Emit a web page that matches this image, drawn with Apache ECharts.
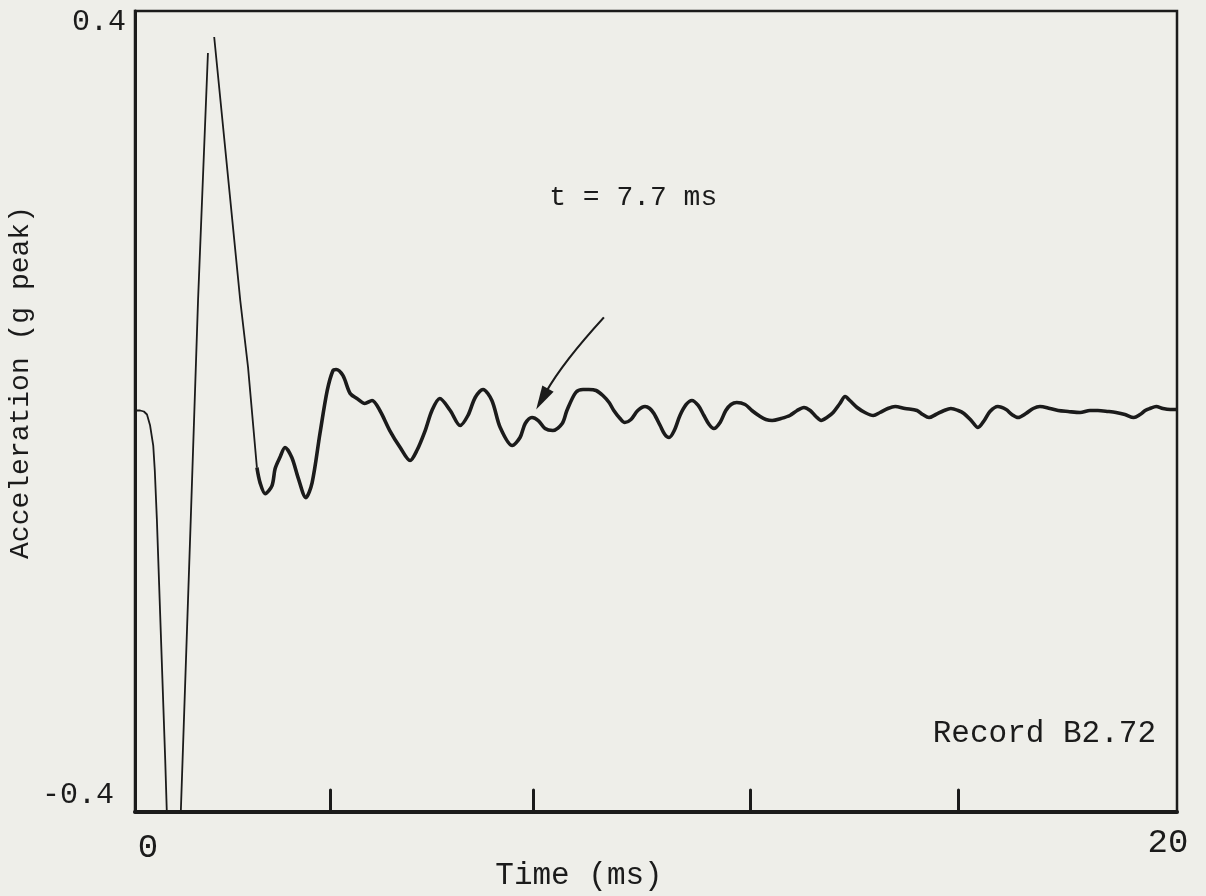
<!DOCTYPE html>
<html>
<head>
<meta charset="utf-8">
<title>Acceleration record B2.72</title>
<script src="https://cdn.jsdelivr.net/npm/echarts@6.0.0/dist/echarts.min.js"></script>
<style>
  html, body { margin: 0; padding: 0; background: #eeeee9; }
  #chart { width: 1206px; height: 896px; }
</style>
</head>
<body>
<div id="chart"></div>
<script>
// Sampled trace: time (ms) and acceleration (g peak). The null is the pen lift at the first peak.
const timeMs = [
  0, 0.10, 0.17, 0.23, 0.29, 0.35, 0.38, 0.42, 0.58, 0.61,
  0.75, 0.88, 1.07, 1.21, 1.40, 1.46, 1.52, 2.02, 2.17, 2.34,
  2.40, 2.50, 2.63, 2.69, 2.78, 2.88, 3.01, 3.13, 3.28, 3.40,
  3.55, 3.69, 3.80, 3.86, 3.99, 4.13, 4.26, 4.41, 4.55, 4.70,
  4.89, 5.09, 5.28, 5.41, 5.57, 5.70, 5.85, 6.05, 6.24, 6.39,
  6.53, 6.68, 6.85, 7.01, 7.24, 7.39, 7.49, 7.62, 7.74, 7.87,
  8.02, 8.20, 8.29, 8.46, 8.60, 8.71, 8.85, 8.98, 9.10, 9.19,
  9.31, 9.40, 9.52, 9.65, 9.79, 9.88, 9.96, 10.08, 10.17, 10.25,
  10.35, 10.46, 10.58, 10.69, 10.81, 10.92, 11.02, 11.11, 11.23, 11.34,
  11.44, 11.55, 11.71, 11.84, 12.00, 12.11, 12.23, 12.40, 12.57, 12.71,
  12.84, 12.96, 13.07, 13.17, 13.28, 13.40, 13.53, 13.63, 13.72, 13.86,
  14.01, 14.17, 14.30, 14.45, 14.59, 14.78, 15.01, 15.12, 15.24, 15.37,
  15.53, 15.66, 15.80, 15.91, 16.05, 16.18, 16.30, 16.41, 16.56, 16.72,
  16.83, 16.95, 17.10, 17.24, 17.37, 17.56, 17.72, 17.91, 18.14, 18.33,
  18.48, 18.68, 18.83, 19.00, 19.17, 19.29, 19.39, 19.48, 19.60, 19.73,
  19.87, 20.00
];
const accelG = [
  0.001, 0.001, 0.000, -0.003, -0.014, -0.034, -0.059, -0.108, -0.348, -0.399,
  -0.598, -0.399, -0.108, 0.111, 0.358, null, 0.374, 0.111, 0.044, -0.056,
  -0.071, -0.082, -0.074, -0.057, -0.046, -0.036, -0.046, -0.066, -0.086, -0.071,
  -0.022, 0.021, 0.041, 0.042, 0.036, 0.018, 0.013, 0.008, 0.011, 0.001,
  -0.019, -0.036, -0.049, -0.039, -0.019, 0.001, 0.013, 0.001, -0.014, -0.004,
  0.014, 0.022, 0.011, -0.016, -0.034, -0.026, -0.012, -0.006, -0.009, -0.017,
  -0.019, -0.012, 0.001, 0.019, 0.022, 0.022, 0.021, 0.016, 0.009, 0.001,
  -0.007, -0.011, -0.008, 0.001, 0.005, 0.003, -0.002, -0.014, -0.023, -0.026,
  -0.019, -0.004, 0.007, 0.011, 0.006, -0.004, -0.013, -0.017, -0.011, 0.001,
  0.007, 0.009, 0.007, 0.001, -0.005, -0.008, -0.009, -0.007, -0.004, 0.001,
  0.004, 0.001, -0.005, -0.009, -0.006, -0.001, 0.008, 0.015, 0.011, 0.004,
  -0.001, -0.004, -0.001, 0.003, 0.005, 0.003, 0.001, -0.003, -0.006, -0.003,
  0.001, 0.003, 0.001, -0.002, -0.009, -0.016, -0.009, 0.000, 0.005, 0.002,
  -0.003, -0.006, -0.002, 0.003, 0.005, 0.003, 0.001, 0.000, -0.001, 0.001,
  0.001, 0.000, -0.001, -0.003, -0.006, -0.003, 0.001, 0.003, 0.005, 0.003,
  0.002, 0.002
];
// Index where the fast initial swing hands over to the ringing tail
const ringStartIndex = 19;

// Axis ticks and labels
const xTickValues = [3.75, 7.65, 11.8, 15.8];
const xLabelValues = [0, 20];
const xLabelText = ['0', '20'];
const yLabelValues = [-0.4, 0.4];
const yLabelText = ['-0.4', '0.4'];

// Annotation: arrow pointing at t = 7.7 ms
const annotationText = 't = 7.7 ms';
const annotationTime = 7.7;
const arrowTip = [annotationTime, 0.002];
const arrowBend = [8.21, 0.049];
const arrowTail = [9.0, 0.094];
const annotationAnchor = [7.95, 0.214];
const recordText = 'Record B2.72';

const INK = '#1b1b1b';
const FONT = '"Liberation Mono", "DejaVu Sans Mono", monospace';

const points = timeMs.map((t, i) => [t, accelG[i]]);

const chart = echarts.init(document.getElementById('chart'), null, { renderer: 'canvas' });

chart.setOption({
  backgroundColor: '#eeeee9',
  animation: false,
  grid: {
    left: 135, right: 29, top: 11, bottom: 84,
    containLabel: false, outerBoundsMode: 'none',
    show: true, borderColor: INK, borderWidth: 2.5, backgroundColor: 'transparent'
  },
  xAxis: {
    type: 'value', min: 0, max: 20,
    name: 'Time (ms)', nameLocation: 'middle', nameGap: 48, nameMoveOverlap: false,
    nameTextStyle: { color: INK, fontFamily: FONT, fontSize: 31, padding: [0, 154, 0, 0] },
    axisLine: { show: true, onZero: false, lineStyle: { color: INK, width: 4 } },
    axisTick: { show: true, inside: true, length: 22, customValues: xTickValues,
      lineStyle: { color: INK, width: 3, cap: 'round' } },
    splitLine: { show: false },
    axisLabel: {
      customValues: xLabelValues, margin: 14, color: INK, fontFamily: FONT, fontSize: 34,
      formatter: v => {
        const i = xLabelValues.indexOf(v);
        return i === 0 ? '{first|' + xLabelText[i] + '}' : '{last|' + xLabelText[i] + '}';
      },
      rich: {
        first: { fontFamily: FONT, fontSize: 34, color: INK, padding: [5, 0, 0, 26] },
        last: { fontFamily: FONT, fontSize: 34, color: INK, padding: [0, 18, 0, 0] }
      }
    }
  },
  yAxis: {
    type: 'value', min: -0.4, max: 0.4, interval: 0.8,
    name: 'Acceleration (g peak)', nameLocation: 'middle', nameGap: 100, nameMoveOverlap: false,
    nameTextStyle: { color: INK, fontFamily: FONT, fontSize: 28, padding: [0, 0, 0, 58] },
    axisLine: { show: true, onZero: false, lineStyle: { color: INK, width: 3 } },
    axisTick: { show: false },
    splitLine: { show: false },
    axisLabel: {
      margin: 9, color: INK, fontFamily: FONT, fontSize: 30,
      formatter: v => {
        const i = yLabelValues.findIndex(y => Math.abs(y - v) < 1e-9);
        if (i < 0) return '';
        return v > 0 ? '{top|' + yLabelText[i] + '}' : '{bot|' + yLabelText[i] + '}';
      },
      rich: {
        top: { fontFamily: FONT, fontSize: 30, color: INK, padding: [23, 0, 0, 0] },
        bot: { fontFamily: FONT, fontSize: 30, color: INK, padding: [0, 12, 34, 0] }
      }
    }
  },
  series: [
    {
      type: 'line', data: points.slice(0, ringStartIndex + 1), symbol: 'none',
      connectNulls: false, clip: true, smooth: false,
      lineStyle: { color: INK, width: 1.8 }
    },
    {
      type: 'line', data: points.slice(ringStartIndex), symbol: 'none',
      clip: true, smooth: 0.3,
      lineStyle: { color: INK, width: 3.6 }
    }
  ]
});

// Annotation arrow and labels, positioned from data coordinates
const toPx = p => chart.convertToPixel({ gridIndex: 0 }, p);
const tip = toPx(arrowTip), bend = toPx(arrowBend), tail = toPx(arrowTail);
const dx = tip[0] - bend[0], dy = tip[1] - bend[1];
const len = Math.hypot(dx, dy);
const ux = dx / len, uy = dy / len;
const headLen = 24, headHalf = 6.5;
const base = [tip[0] - ux * headLen, tip[1] - uy * headLen];
const nx = -uy, ny = ux;
const anchor = toPx(annotationAnchor);

chart.setOption({
  graphic: [
    {
      type: 'bezierCurve',
      shape: { x1: tail[0], y1: tail[1], x2: base[0] + ux * 4, y2: base[1] + uy * 4, cpx1: bend[0], cpy1: bend[1] },
      style: { stroke: INK, lineWidth: 2.2, fill: null }
    },
    {
      type: 'polygon',
      shape: { points: [tip, [base[0] + nx * headHalf, base[1] + ny * headHalf], [base[0] - nx * headHalf, base[1] - ny * headHalf]] },
      style: { fill: INK }
    },
    {
      type: 'text', x: anchor[0], y: anchor[1],
      style: { text: annotationText, fill: INK, font: '28px ' + FONT,
        align: 'left', verticalAlign: 'middle', textAlign: 'left', textVerticalAlign: 'middle' }
    },
    {
      type: 'text', x: 1156, y: 734,
      style: { text: recordText, fill: INK, font: '31px ' + FONT,
        align: 'right', verticalAlign: 'middle', textAlign: 'right', textVerticalAlign: 'middle' }
    }
  ]
});
</script>
</body>
</html>
